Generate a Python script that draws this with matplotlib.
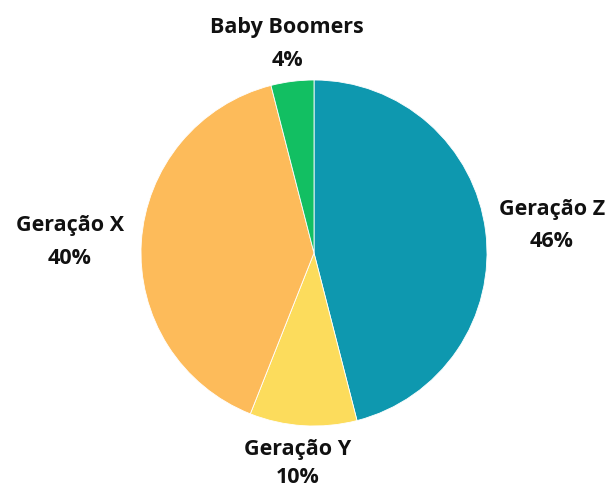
import matplotlib
matplotlib.use("Agg")
import matplotlib.pyplot as plt
import numpy as np

categories = ["Geração Z", "Geração Y", "Geração X", "Baby Boomers"]
values = [46, 10, 40, 4]
colors = ["#0E98AF", "#FCDC5C", "#FDBB5A", "#12BF62"]

W, H = 614, 489
fig = plt.figure(figsize=(W / 100, H / 100), dpi=100)
cx, cy, r = 314, 254, 173
ax = fig.add_axes([(cx - r) / W, (H - cy - r) / H, 2 * r / W, 2 * r / H])
ax.pie(values, colors=colors, startangle=90, counterclock=False,
       wedgeprops=dict(edgecolor="white", linewidth=0.6))
ax.set_xlim(-1, 1)
ax.set_ylim(-1, 1)
ax.set_aspect("equal")
ax.set_clip_on(False)

# label positions in pixel centers (from reference)
label_px = {
    "Geração Z": (552, 210, 242),
    "Geração Y": (298, 450, 478),
    "Geração X": (70, 226, 258),
    "Baby Boomers": (287, 27, 60),
}
font = dict(family=["Open Sans", "DejaVu Sans"], fontweight="bold", fontsize=15.5, color="#111111")
for cat, v in zip(categories, values):
    x, y1, y2 = label_px[cat]
    dx = (x - cx) / r
    ax.text(dx, (cy - y1) / r, cat, ha="center", va="center", clip_on=False, **font)
    ax.text(dx, (cy - y2) / r, f"{v}%", ha="center", va="center", clip_on=False, **font)

fig.savefig("out.png", dpi=100)
